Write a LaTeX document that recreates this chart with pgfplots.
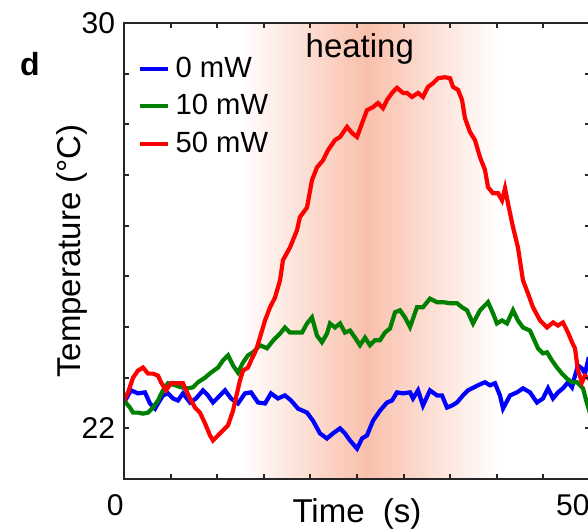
\documentclass[border=0pt]{standalone}
\usepackage{pgfplots}
\pgfplotsset{compat=1.18}
\usepackage{fontspec}
\setmainfont{Liberation Sans}
\definecolor{heat}{RGB}{249,192,172}
\definecolor{mgreen}{RGB}{0,128,0}
\begin{document}
\begin{tikzpicture}
\begin{axis}[
  at={(62pt,25.5pt)}, anchor=south west,
  scale only axis, width=233pt, height=228pt,
  xmin=0, xmax=50, ymin=21, ymax=30,
  xtick={0,5,...,50}, xticklabels={0,,,,,,,,,,50},
  ytick={21,...,30}, yticklabels={,22,,,,,,,,30},
  tick align=inside, major tick length=2.5pt,
  axis line style={line width=1pt, black!85},
  tick style={line width=1pt, black!85},
  axis on top,
  ticklabel style={font=\fontsize{15}{17}\selectfont},
  /pgf/number format/assume math mode=true,
  xticklabel style={anchor=north east, inner xsep=0pt, yshift=-4pt},
  yticklabel style={inner xsep=4.3pt},
  label style={font=\fontsize{16.5}{18}\selectfont},
  xlabel={Time~~(s)},
  xlabel style={at={(axis description cs:0.5,0)}, anchor=base, yshift=-21.5pt},
  ylabel={Temperature (°C)},
  ylabel style={at={(axis description cs:-0.0923,0.5)}, anchor=base},
  legend style={draw=none, fill=none, at={(axis description cs:0.028,0.9276)}, anchor=north west, inner sep=0pt, font=\fontsize{14.6}{16}\selectfont, row sep=5.25pt, column sep=3pt, nodes={inner sep=0pt, text height=10.5pt, text depth=3pt}},
  legend cell align=left,
  legend image code/.code={\draw[#1] (0pt,0.6pt) -- (14pt,0.6pt);},
  every axis plot/.append style={line width=2.1pt},
]
\fill[left color=white, right color=heat, draw=none] (axis cs:12.4,21) rectangle (axis cs:26.1,30);
\fill[left color=heat, right color=white, draw=none] (axis cs:26.1,21) rectangle (axis cs:40.1,30);

\addplot[blue, no marks] coordinates {
(0,22.51)(0.75,22.75)(1.50,22.69)(2.25,22.71)(2.79,22.49)(3.33,22.39)(3.65,22.49)(4.18,22.65)(4.72,22.69)(5.26,22.59)
(5.79,22.55)(6.33,22.69)(7.08,22.51)(7.73,22.59)(8.48,22.75)(9.01,22.65)(9.55,22.51)(10.09,22.61)(10.84,22.75)(11.48,22.59)
(12.23,22.49)(12.98,22.69)(13.63,22.71)(14.38,22.51)(15.13,22.49)(15.77,22.69)(16.52,22.59)(17.27,22.65)(17.92,22.55)(18.67,22.39)
(19.64,22.31)(20.28,22.15)(21.03,21.90)(21.78,21.80)(22.42,21.90)(23.18,22.00)(23.71,21.90)(24.25,21.76)(25.00,21.60)(25.54,21.80)
(26.07,21.86)(26.72,22.15)(27.47,22.35)(28.22,22.51)(28.76,22.55)(29.29,22.71)(29.94,22.69)(30.69,22.71)(31.01,22.59)(31.55,22.75)
(32.08,22.45)(32.83,22.75)(33.58,22.65)(34.12,22.65)(34.66,22.41)(35.19,22.45)(35.73,22.51)(36.37,22.65)(36.91,22.75)(37.34,22.79)
(37.98,22.85)(38.73,22.91)(39.27,22.85)(39.81,22.89)(40.34,22.65)(40.67,22.39)(41.42,22.65)(42.17,22.71)(42.81,22.79)(43.56,22.71)
(44.31,22.51)(44.96,22.59)(45.49,22.79)(46.03,22.59)(46.57,22.71)(47.10,22.79)(47.64,22.91)(48.07,22.81)(48.39,23.04)(48.71,23.24)
(49.14,23.18)(49.46,23.08)(49.79,23.34)(50,23.30)
};
\addlegendentry{0 mW}

\addplot[mgreen, no marks] coordinates {
(0,22.55)(0.64,22.41)(0.97,22.31)(1.50,22.31)(2.04,22.29)(2.58,22.31)(3.11,22.41)(3.65,22.55)(4.18,22.75)(4.72,22.89)
(5.47,22.85)(6.12,22.81)(6.87,22.79)(7.40,22.81)(7.94,22.91)(8.69,23.00)(9.33,23.10)(10.09,23.20)(10.62,23.34)(11.16,23.44)
(11.70,23.24)(12.23,23.10)(12.77,23.30)(13.30,23.44)(13.84,23.50)(14.59,23.64)(15.34,23.58)(15.99,23.73)(16.74,23.87)(17.27,23.99)
(17.81,23.89)(18.56,23.89)(19.10,23.89)(19.64,24.07)(20.17,24.19)(20.71,23.83)(21.24,23.70)(21.78,23.87)(22.10,24.07)(22.64,23.99)
(23.18,24.07)(23.71,23.89)(24.25,23.93)(24.79,23.79)(25.32,23.64)(25.86,23.79)(26.39,23.64)(26.93,23.74)(27.47,23.74)(28.00,23.89)
(28.54,23.97)(29.08,24.29)(29.61,24.33)(30.15,24.19)(30.69,24.00)(31.44,24.39)(32.08,24.39)(32.83,24.56)(33.58,24.49)(34.23,24.49)
(34.98,24.47)(35.73,24.47)(36.27,24.39)(36.80,24.33)(37.45,24.07)(38.20,24.33)(39.06,24.49)(39.59,24.27)(40.02,24.07)(40.56,24.13)
(41.09,24.07)(41.74,24.33)(42.27,24.13)(42.81,23.99)(43.56,23.93)(44.42,23.58)(44.96,23.48)(45.39,23.50)(45.92,23.34)(46.46,23.20)
(47.00,23.08)(47.53,22.98)(48.07,22.91)(48.61,22.91)(49.25,22.79)(49.68,22.49)(50,22.30)
};
\addlegendentry{10 mW}

\addplot[red, no marks] coordinates {
(0,22.55)(0.43,22.71)(0.97,23.00)(1.50,23.14)(2.04,23.20)(2.58,23.08)(3.11,23.08)(3.65,23.04)(3.97,22.91)(4.51,22.75)
(5.04,22.89)(5.79,22.89)(6.33,22.89)(6.65,22.75)(7.08,22.59)(7.62,22.41)(8.15,22.31)(8.69,22.10)(9.23,21.86)(9.55,21.76)
(10.09,21.86)(10.62,21.96)(11.16,22.06)(11.70,22.35)(12.02,22.61)(12.45,22.95)(12.77,23.14)(13.30,23.20)(13.63,23.34)(14.06,23.50)
(14.27,23.60)(14.81,23.93)(15.13,24.13)(15.67,24.39)(16.20,24.58)(16.74,24.92)(17.06,25.32)(17.81,25.57)(18.56,25.91)(18.88,26.17)
(19.64,26.36)(20.17,26.90)(20.71,27.15)(21.35,27.29)(21.89,27.49)(22.64,27.69)(23.18,27.75)(23.93,27.95)(24.46,27.83)(25.00,27.75)
(25.54,28.02)(26.07,28.28)(26.72,28.34)(27.25,28.42)(27.79,28.32)(28.22,28.48)(28.76,28.62)(29.29,28.72)(29.94,28.62)(30.36,28.62)
(30.90,28.54)(31.55,28.62)(32.08,28.54)(32.62,28.74)(33.15,28.81)(33.69,28.91)(34.44,28.93)(34.98,28.91)(35.30,28.74)(35.84,28.68)
(36.27,28.48)(36.59,28.12)(37.12,27.85)(37.66,27.69)(38.20,27.35)(38.73,27.10)(39.06,26.76)(39.59,26.64)(40.13,26.64)(40.56,26.50)
(40.88,26.74)(41.20,26.44)(41.74,25.97)(42.27,25.57)(42.81,24.92)(43.35,24.66)(43.88,24.39)(44.64,24.13)(45.39,23.99)(46.03,24.09)
(46.57,24.03)(47.10,24.09)(47.64,23.89)(48.07,23.70)(48.39,23.58)(48.71,23.14)(49.14,22.91)(49.46,23.04)(49.79,23.00)(50,22.95)
};
\addlegendentry{50 mW}

\node[anchor=base, font=\fontsize{16.5}{18}\selectfont] at (axis cs:25.3,29.31) {heating};
\end{axis}
\node[font=\bfseries\fontsize{16}{18}\selectfont] at (15pt,233pt) {d};
\pgfresetboundingbox
\useasboundingbox (0,0) rectangle (294pt,265pt);
\end{tikzpicture}
\end{document}
